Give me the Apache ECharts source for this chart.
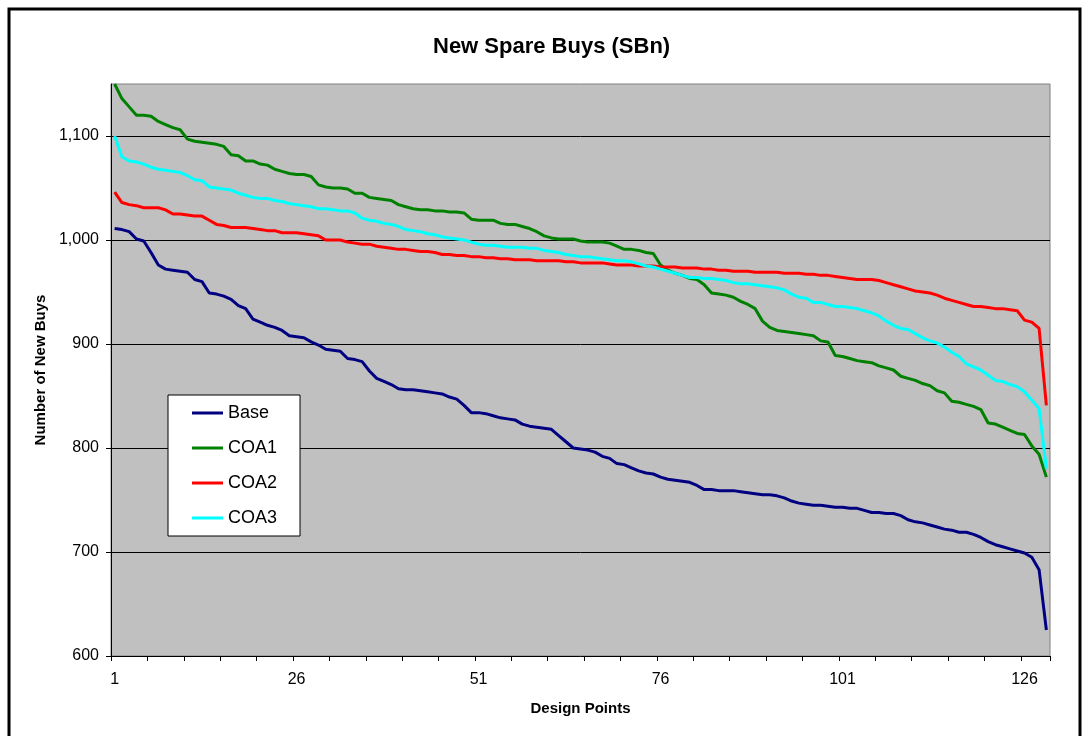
<!DOCTYPE html>
<html>
<head>
<meta charset="utf-8">
<title>New Spare Buys (SBn)</title>
<script src="https://cdn.jsdelivr.net/npm/echarts@6/dist/echarts.min.js"></script>
<style>
  html, body { margin: 0; padding: 0; background: #fff; }
  #chart { width: 1089px; height: 736px; }
</style>
</head>
<body>
<div id="chart"></div>
<script>
// design points 1..129 (category index only)
const designPoints = Array.from({ length: 129 }, (_, i) => String(i + 1));

const base = [
  1011, 1010, 1008, 1001, 999, 988, 976, 972, 971, 970,
  969, 962, 960, 949, 948, 946, 943, 937, 934, 924,
  921, 918, 916, 913, 908, 907, 906, 902, 899, 895,
  894, 893, 886, 885, 883, 874, 867, 864, 861, 857,
  856, 856, 855, 854, 853, 852, 849, 847, 841, 834,
  834, 833, 831, 829, 828, 827, 823, 821, 820, 819,
  818, 812, 806, 800, 799, 798, 796, 792, 790, 785,
  784, 781, 778, 776, 775, 772, 770, 769, 768, 767,
  764, 760, 760, 759, 759, 759, 758, 757, 756, 755,
  755, 754, 752, 749, 747, 746, 745, 745, 744, 743,
  743, 742, 742, 740, 738, 738, 737, 737, 735, 731,
  729, 728, 726, 724, 722, 721, 719, 719, 717, 714,
  710, 707, 705, 703, 701, 699, 695, 683, 625
];

const coa1 = [
  1150, 1136, 1128, 1120, 1120, 1119, 1114, 1111, 1108, 1106,
  1097, 1095, 1094, 1093, 1092, 1090, 1082, 1081, 1076, 1076,
  1073, 1072, 1068, 1066, 1064, 1063, 1063, 1061, 1053, 1051,
  1050, 1050, 1049, 1045, 1045, 1041, 1040, 1039, 1038, 1034,
  1032, 1030, 1029, 1029, 1028, 1028, 1027, 1027, 1026, 1020,
  1019, 1019, 1019, 1016, 1015, 1015, 1013, 1011, 1008, 1004,
  1002, 1001, 1001, 1001, 999, 998, 998, 998, 997, 994,
  991, 991, 990, 988, 987, 976, 971, 968, 966, 963,
  962, 957, 949, 948, 947, 945, 941, 938, 934, 922,
  916, 913, 912, 911, 910, 909, 908, 903, 902, 889,
  888, 886, 884, 883, 882, 879, 877, 875, 869, 867,
  865, 862, 860, 855, 853, 845, 844, 842, 840, 837,
  824, 823, 820, 817, 814, 813, 802, 794, 772
];

const coa2 = [
  1046, 1036, 1034, 1033, 1031, 1031, 1031, 1029, 1025, 1025,
  1024, 1023, 1023, 1019, 1015, 1014, 1012, 1012, 1012, 1011,
  1010, 1009, 1009, 1007, 1007, 1007, 1006, 1005, 1004, 1000,
  1000, 1000, 998, 997, 996, 996, 994, 993, 992, 991,
  991, 990, 989, 989, 988, 986, 986, 985, 985, 984,
  984, 983, 983, 982, 982, 981, 981, 981, 980, 980,
  980, 980, 979, 979, 978, 978, 978, 978, 977, 976,
  976, 976, 975, 975, 975, 974, 974, 974, 973, 973,
  973, 972, 972, 971, 971, 970, 970, 970, 969, 969,
  969, 969, 968, 968, 968, 967, 967, 966, 966, 965,
  964, 963, 962, 962, 962, 961, 959, 957, 955, 953,
  951, 950, 949, 947, 944, 942, 940, 938, 936, 936,
  935, 934, 934, 933, 932, 923, 921, 915, 841
];

const coa3 = [
  1100, 1080, 1076, 1075, 1073, 1070, 1068, 1067, 1066, 1065,
  1062, 1058, 1057, 1051, 1050, 1049, 1048, 1045, 1043, 1041,
  1040, 1040, 1038, 1037, 1035, 1034, 1033, 1032, 1030, 1030,
  1029, 1028, 1028, 1026, 1021, 1019, 1018, 1016, 1015, 1013,
  1010, 1009, 1008, 1006, 1005, 1003, 1002, 1001, 1000, 998,
  996, 995, 995, 994, 993, 993, 993, 992, 992, 990,
  989, 988, 986, 985, 984, 984, 983, 982, 981, 980,
  980, 979, 977, 975, 974, 972, 970, 968, 966, 964,
  964, 963, 963, 962, 961, 959, 958, 958, 957, 956,
  955, 954, 952, 948, 945, 944, 940, 940, 938, 936,
  936, 935, 934, 932, 930, 927, 922, 918, 915, 914,
  910, 906, 903, 901, 897, 892, 888, 881, 878, 875,
  870, 865, 864, 861, 859, 854, 846, 838, 780
];

const seriesNames = ["Base", "COA1", "COA2", "COA3"];
const seriesData = [base, coa1, coa2, coa3];
const colorList = ["#000080", "#008000", "#FF0000", "#00FFFF"];

const font = "Arial, 'Liberation Sans', sans-serif";

const chart = echarts.init(document.getElementById("chart"));

const option = {
  animation: false,
  color: colorList,
  textStyle: { fontFamily: font },
  title: {
    text: "New Spare Buys (SBn)",
    left: 428,
    top: 31,
    textStyle: {
      fontFamily: font,
      fontSize: 22,
      fontWeight: "bold",
      color: "#000"
    }
  },
  legend: {
    orient: "vertical",
    left: 168,
    top: 395,
    padding: [9, 23, 9, 24],
    itemGap: 17,
    itemWidth: 31,
    itemHeight: 3,
    icon: "rect",
    backgroundColor: "#fff",
    borderColor: "#000",
    borderWidth: 1,
    borderRadius: 0,
    textStyle: {
      fontFamily: font,
      fontSize: 18,
      lineHeight: 18,
      color: "#000"
    },
    data: seriesNames
  },
  grid: {
    show: true,
    left: 111,
    right: 39,
    top: 84,
    bottom: 80,
    backgroundColor: "#C0C0C0",
    borderColor: "#808080",
    borderWidth: 1,
    containLabel: false
  },
  xAxis: {
    type: "category",
    data: designPoints,
    boundaryGap: true,
    name: "Design Points",
    nameLocation: "middle",
    nameGap: 45,
    nameTextStyle: {
      fontFamily: font,
      fontSize: 15,
      fontWeight: "bold",
      color: "#000"
    },
    axisLine: { lineStyle: { color: "#000", width: 1 } },
    axisTick: {
      show: true,
      interval: 4,
      length: 5,
      lineStyle: { color: "#000", width: 1 }
    },
    axisLabel: {
      interval: 24,
      margin: 16,
      fontFamily: font,
      fontSize: 16,
      color: "#000"
    },
    splitLine: { show: false }
  },
  yAxis: {
    type: "value",
    min: 600,
    max: 1150,
    interval: 100,
    name: "Number of New Buys",
    nameLocation: "middle",
    nameGap: 63,
    nameTextStyle: {
      fontFamily: font,
      fontSize: 15,
      fontWeight: "bold",
      color: "#000"
    },
    axisLine: { show: true, lineStyle: { color: "#000", width: 1 } },
    axisTick: { show: true, length: 5, lineStyle: { color: "#000" } },
    axisLabel: {
      margin: 12,
      fontFamily: font,
      fontSize: 16,
      color: "#000",
      showMaxLabel: false,
      formatter: function (v) {
        return v > 1100 ? "" : v.toLocaleString("en-US");
      }
    },
    splitLine: {
      show: true,
      showMinLine: false,
      showMaxLine: false,
      lineStyle: { color: "#000", width: 1 }
    }
  },
  graphic: [
    {
      type: "rect",
      silent: true,
      z: -10,
      shape: { x: 9, y: 9, width: 1071, height: 760 },
      style: { fill: "none", stroke: "#000", lineWidth: 3 }
    }
  ],
  series: []
};

seriesData.forEach((item, index) => {
  option.series.push({
    name: seriesNames[index],
    type: "line",
    data: item,
    symbol: "none",
    showSymbol: false,
    smooth: false,
    lineStyle: { width: 3, color: colorList[index] },
    itemStyle: { color: colorList[index] },
    emphasis: { disabled: true }
  });
});

chart.setOption(option);
</script>
</body>
</html>
